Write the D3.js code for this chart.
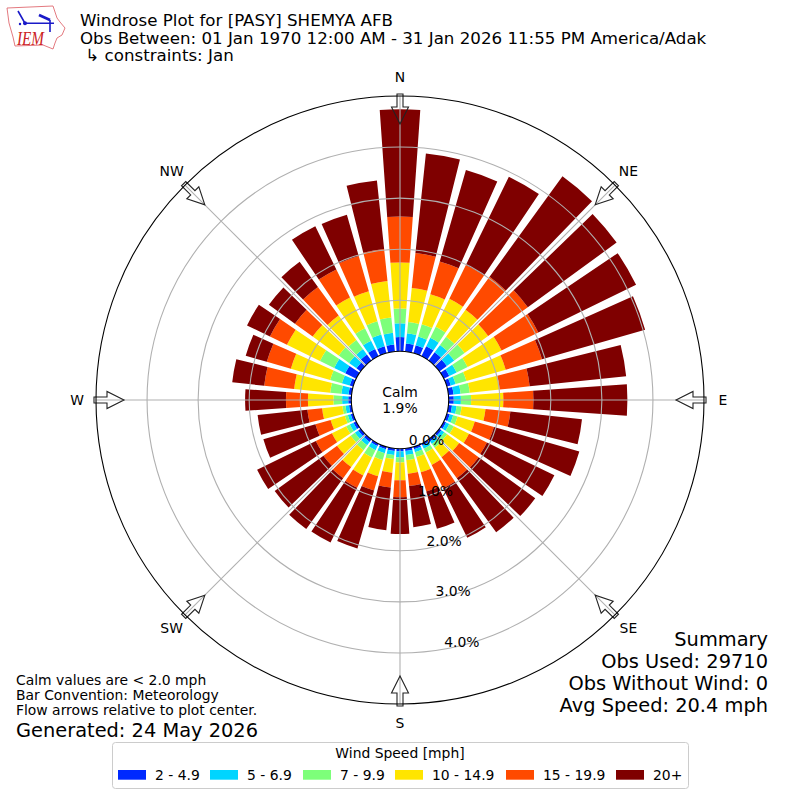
<!DOCTYPE html>
<html lang="en">

<head>
    <meta charset="UTF-8">
    <title>Windrose Plot</title>
    <script src="https://d3js.org/d3.v7.min.js"></script>
    <style>
        html, body {
            margin: 0;
            padding: 0;
            background-color: #fff;
        }

        svg {
            display: block;
            font-family: "DejaVu Sans", sans-serif;
        }
    </style>
</head>

<body>
    <svg id="chart" width="800" height="800"></svg>

    <script>
        // wind direction of each bar, degrees from north
        var directions = d3.range(36).map(function (i) { return i * 10; });

        // percent of obs per direction (0, 10, 20 ... 350) for every speed class
        var speed2to5 = [.28, .16, .16, .22, .20, .18, .12, .08, .10, .10, .07, .06, .05, .05, .05, .04, .05, .05,
            .05, .05, .05, .05, .06, .06, .06, .05, .05, .06, .06, .07, .24, .10, .15, .16, .14, .14];
        var speed5to7 = [.27, .20, .18, .18, .18, .18, .16, .10, .14, .14, .09, .07, .07, .07, .06, .07, .06, .08,
            .12, .08, .08, .09, .08, .08, .08, .06, .07, .12, .14, .16, .24, .18, .13, .18, .24, .23];
        var speed7to10 = [.29, .22, .25, .24, .20, .25, .24, .22, .18, .20, .10, .09, .10, .07, .09, .08, .10, .10,
            .10, .08, .14, .16, .12, .10, .08, .06, .06, .17, .22, .24, .31, .25, .22, .27, .27, .30];
        var speed10to15 = [.90, .67, .61, .61, .65, .57, .74, .80, .59, .63, .47, .35, .33, .29, .23, .27, .31, .27,
            .35, .27, .33, .39, .41, .33, .31, .29, .40, .50, .71, .80, .72, .63, .59, .67, .61, .72];
        var speed15to20 = [.90, .69, .67, .74, .80, .96, .80, .74, .59, .59, .49, .39, .39, .47, .51, .51, .39, .24,
            .33, .29, .29, .27, .27, .33, .35, .31, .29, .43, .59, .49, .37, .43, .69, .61, .72, .63];
        var speed20up = [2.10, 1.96, 1.86, 1.92, 2.43, 2.15, 2.13, 2.10, 1.90, 1.84, 1.41, 1.74, 1.47, 1.37, 1.31, 1.08, .76, .81,
            .72, .84, 1.18, 1.19, 1.23, 1.18, 1.28, 1.06, .98, .80, .63, .43, .50, .63, .61, .94, .84, 1.35];

        var speedSeries = [speed2to5, speed5to7, speed7to10, speed10to15, speed15to20, speed20up];
        var speedLabels = ["2 - 4.9", "5 - 6.9", "7 - 9.9", "10 - 14.9", "15 - 19.9", "20+"];
        var speedColors = ["#0029ff", "#00d5ff", "#7dff7a", "#ffe500", "#ff4a00", "#7f0000"];

        var compassLabels = ["N", "NE", "E", "SE", "S", "SW", "W", "NW"];
        var radialTicks = [0, 1, 2, 3, 4];

        var titleLines = ["Windrose Plot for [PASY] SHEMYA AFB",
            "Obs Between: 01 Jan 1970 12:00 AM - 31 Jan 2026 11:55 PM America/Adak",
            " \u21b3 constraints: Jan"];
        var summaryLines = ["Summary", "Obs Used: 29710", "Obs Without Wind: 0", "Avg Speed: 20.4 mph"];
        var noteLines = ["Calm values are < 2.0 mph", "Bar Convention: Meteorology", "Flow arrows relative to plot center."];

        var svg = d3.select("#chart");
        var cx = 400, cy = 400;

        var r = d3.scaleLinear().domain([0, 5]).range([48.7, 304]);
        var toRad = d3.scaleLinear().domain([0, 360]).range([0, 2 * Math.PI]);
        var arc = d3.arc();

        var plot = svg.append("g").attr("transform", "translate(" + cx + "," + cy + ")");
        var compassAngles = compassLabels.map(function (d, i) { return i * 45; });

        // flow arrows, fill goes under the bars and the edge over them
        var arrowShape = "M0,-276 L8.5,-293 L3,-293 L3,-306 L-3,-306 L-3,-293 L-8.5,-293 Z";
        plot.selectAll(".arrow-fill")
            .data(compassAngles)
            .enter().append("path")
            .attr("class", "arrow-fill")
            .attr("d", arrowShape)
            .attr("transform", function (d) { return "rotate(" + d + ")"; })
            .attr("fill", "#fff");

        // bars, stacked outwards from the calm hole
        directions.forEach(function (dir, i) {
            var total = 0;
            speedSeries.forEach(function (series, k) {
                var start = total;
                total += series[i];
                plot.append("path")
                    .attr("d", arc({
                        innerRadius: r(start),
                        outerRadius: r(total),
                        startAngle: toRad(dir - 4),
                        endAngle: toRad(dir + 4)
                    }))
                    .attr("fill", speedColors[k]);
            });
        });

        // grid
        plot.selectAll(".spoke")
            .data(compassAngles)
            .enter().append("line")
            .attr("class", "spoke")
            .attr("x1", function (d) { return r(0) * Math.sin(toRad(d)); })
            .attr("y1", function (d) { return -r(0) * Math.cos(toRad(d)); })
            .attr("x2", function (d) { return r(5) * Math.sin(toRad(d)); })
            .attr("y2", function (d) { return -r(5) * Math.cos(toRad(d)); })
            .attr("stroke", "#b0b0b0")
            .attr("stroke-width", 1.1);

        plot.selectAll(".ring")
            .data(radialTicks.slice(1))
            .enter().append("circle")
            .attr("class", "ring")
            .attr("r", function (d) { return r(d); })
            .attr("fill", "none")
            .attr("stroke", "#b0b0b0")
            .attr("stroke-width", 1.1);

        plot.selectAll(".arrow-edge")
            .data(compassAngles)
            .enter().append("path")
            .attr("class", "arrow-edge")
            .attr("d", arrowShape)
            .attr("transform", function (d) { return "rotate(" + d + ")"; })
            .attr("fill", "none")
            .attr("stroke", "#222")
            .attr("stroke-width", 1.1);

        // hole and frame
        plot.append("circle").attr("r", r(0)).attr("fill", "#fff").attr("stroke", "#000").attr("stroke-width", 1.1);
        plot.append("circle").attr("r", r(5)).attr("fill", "none").attr("stroke", "#000").attr("stroke-width", 1.1);

        plot.selectAll(".rlabel")
            .data(radialTicks)
            .enter().append("text")
            .attr("class", "rlabel")
            .attr("x", function (d) { return r(d) * Math.sin(toRad(10)) + 18; })
            .attr("y", function (d) { return r(d) * Math.cos(toRad(10)) - 7.5; })
            .attr("dy", "0.36em")
            .attr("text-anchor", "middle")
            .attr("font-size", 13.9)
            .text(function (d) { return d.toFixed(1) + "%"; });

        plot.selectAll(".compass")
            .data(compassLabels)
            .enter().append("text")
            .attr("class", "compass")
            .attr("x", function (d, i) { return 323 * Math.sin(toRad(i * 45)); })
            .attr("y", function (d, i) { return -323 * Math.cos(toRad(i * 45)) - 0.5; })
            .attr("dy", "0.36em")
            .attr("text-anchor", "middle")
            .attr("font-size", 13.9)
            .text(function (d) { return d; });

        plot.append("text").attr("y", -8.5).attr("dy", "0.36em").attr("text-anchor", "middle")
            .attr("font-size", 13.9).text("Calm");
        plot.append("text").attr("y", 7.5).attr("dy", "0.36em").attr("text-anchor", "middle")
            .attr("font-size", 13.9).text("1.9%");

        // header
        svg.selectAll(".title")
            .data(titleLines)
            .enter().append("text")
            .attr("class", "title")
            .attr("x", 80)
            .attr("y", function (d, i) { return 26 + i * 17.5; })
            .attr("font-size", 16.67)
            .attr("xml:space", "preserve")
            .style("white-space", "pre")
            .text(function (d) { return d; });

        // summary and notes
        svg.selectAll(".summary")
            .data(summaryLines)
            .enter().append("text")
            .attr("class", "summary")
            .attr("x", 768)
            .attr("y", function (d, i) { return 646 + i * 22; })
            .attr("text-anchor", "end")
            .attr("font-size", 19.4)
            .text(function (d) { return d; });

        svg.selectAll(".note")
            .data(noteLines)
            .enter().append("text")
            .attr("class", "note")
            .attr("x", 16)
            .attr("y", function (d, i) { return 684.6 + i * 15.2; })
            .attr("font-size", 13.9)
            .text(function (d) { return d; });

        svg.append("text").attr("x", 16).attr("y", 736.5).attr("font-size", 19.4).text("Generated: 24 May 2026");

        // legend
        var legendX = [118, 210, 303, 395, 506, 616];
        var legend = svg.append("g");
        legend.append("rect")
            .attr("x", 112.5).attr("y", 742.5).attr("width", 576).attr("height", 46).attr("rx", 3)
            .attr("fill", "#fff").attr("stroke", "#ccc");
        legend.append("text").attr("x", 400).attr("y", 758).attr("text-anchor", "middle")
            .attr("font-size", 13.9).text("Wind Speed [mph]");
        speedLabels.forEach(function (label, i) {
            legend.append("rect")
                .attr("x", legendX[i]).attr("y", 770).attr("width", 28).attr("height", 9.7)
                .attr("fill", speedColors[i]);
            legend.append("text")
                .attr("x", legendX[i] + 37).attr("y", 779.5)
                .attr("font-size", 13.9)
                .text(label);
        });

        // IEM logo
        var logo = svg.append("g");
        var line = d3.line();
        logo.append("path")
            .attr("d", line([[7, 8], [53, 6], [55, 12], [57, 18], [60, 22], [65, 28], [62, 35], [57, 38], [55, 43], [53, 49], [43, 45], [15, 46], [13, 37], [9, 23]]) + "Z")
            .attr("fill", "#fff")
            .attr("stroke", "#e06a70")
            .attr("stroke-width", 0.9);
        logo.append("path")
            .attr("d", "M25,23.3 H54 M18,11 L22,18 L25,23.3 M50,20 V27 M50,27 V32")
            .attr("fill", "none")
            .attr("stroke", "#1a1ac8")
            .attr("stroke-width", 1.6);
        logo.append("path")
            .attr("d", "M39,15 L50,20")
            .attr("fill", "none")
            .attr("stroke", "#1a1ac8")
            .attr("stroke-width", 2.8);
        logo.append("circle").attr("cx", 25).attr("cy", 23.3).attr("r", 2).attr("fill", "#1a1ac8");
        logo.append("circle").attr("cx", 20).attr("cy", 24).attr("r", 1.2).attr("fill", "#1a1ac8");
        logo.append("text")
            .attr("x", 17).attr("y", 44.5)
            .attr("font-family", "'Liberation Serif', serif")
            .attr("font-style", "italic")
            .attr("font-size", 19)
            .attr("textLength", 27)
            .attr("lengthAdjust", "spacingAndGlyphs")
            .attr("fill", "#cc2222")
            .text("IEM");
    </script>
</body>

</html>
